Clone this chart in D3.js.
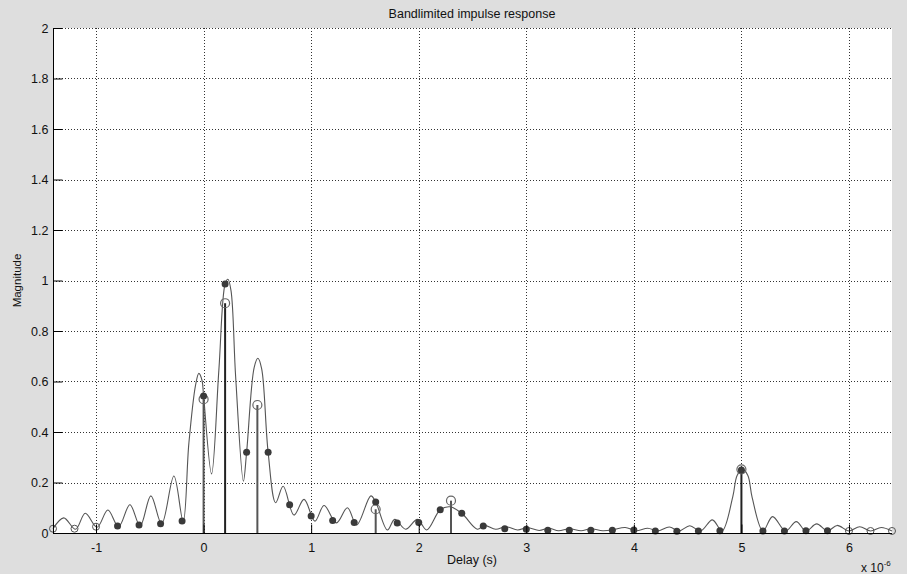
<!DOCTYPE html>
<html>
<head>
<meta charset="utf-8">
<script src="https://cdn.jsdelivr.net/npm/d3@7"></script>
<style>
body { margin: 0; background: #dedede; }
svg { display: block; font-family: "Liberation Sans", Arial, sans-serif; }
</style>
</head>
<body>
<div id="graph"></div>
<script>
// bandlimited curve (delay in us, magnitude)
var curveT = [-1.40, -1.30, -1.19, -1.10, -0.99, -0.89, -0.79, -0.685, -0.59, -0.49, -0.39, -0.276, -0.19,
  -0.137, -0.075, -0.044, -0.015, 0.00, 0.074, 0.142, 0.20, 0.226, 0.255, 0.298, 0.37, 0.40, 0.47, 0.505, 0.54,
  0.60, 0.67, 0.74, 0.84, 0.934,
  1.035, 1.12, 1.235, 1.337, 1.423, 1.555, 1.60, 1.709, 1.777, 1.879, 1.988, 2.074, 2.20, 2.29, 2.40,
  2.545, 2.61, 2.716, 2.81, 2.92, 3.01, 3.12, 3.21, 3.30, 3.40, 3.51, 3.60, 3.71, 3.80, 3.92, 4.02,
  4.13, 4.22, 4.33, 4.42, 4.52, 4.62, 4.73, 4.82, 4.92, 4.96, 5.01, 5.06, 5.10, 5.20, 5.29, 5.41, 5.51, 5.60,
  5.70, 5.80, 5.89, 6.00, 6.10, 6.20, 6.30, 6.40];
var curveMag = [0.017, 0.060, 0.015, 0.078, 0.023, 0.091, 0.025, 0.112, 0.028, 0.147, 0.036, 0.226, 0.045,
  0.355, 0.585, 0.632, 0.605, 0.543, 0.234, 0.645, 0.986, 1.005, 0.96, 0.619, 0.205, 0.32, 0.655, 0.692, 0.65,
  0.32, 0.12, 0.185, 0.071, 0.133,
  0.047, 0.109, 0.040, 0.100, 0.032, 0.147, 0.123, 0.012, 0.054, 0.015, 0.054, 0.012, 0.092, 0.104, 0.078,
  0.015, 0.030, 0.015, 0.025, 0.012, 0.021, 0.010, 0.019, 0.009, 0.017, 0.009, 0.017, 0.009, 0.012, 0.022, 0.009,
  0.019, 0.008, 0.024, 0.008, 0.029, 0.008, 0.052, 0.008, 0.144, 0.228, 0.252, 0.228, 0.140, 0.008, 0.065, 0.008, 0.045, 0.008,
  0.036, 0.008, 0.030, 0.008, 0.025, 0.008, 0.022, 0.008];

// samples every 0.2 us (filled markers)
var sampleT = [-0.8, -0.6, -0.4, -0.2, 0, 0.2, 0.4, 0.6, 0.8, 1.0, 1.2, 1.4, 1.6, 1.8, 2.0, 2.2, 2.4, 2.6,
  2.8, 3.0, 3.2, 3.4, 3.6, 3.8, 4.0, 4.2, 4.4, 4.6, 4.8, 5.0, 5.2, 5.4, 5.6, 5.8];
var sampleMag = [0.028, 0.032, 0.037, 0.048, 0.543, 0.986, 0.32, 0.32, 0.112, 0.067, 0.050, 0.042, 0.123,
  0.040, 0.042, 0.092, 0.078, 0.028, 0.017, 0.015, 0.011, 0.011, 0.011, 0.011, 0.012, 0.008, 0.007, 0.008,
  0.009, 0.250, 0.008, 0.008, 0.009, 0.009];

// samples at the edges (open markers)
var edgeT = [-1.4, -1.2, -1.0, 6.0, 6.2, 6.4];
var edgeMag = [0.017, 0.017, 0.025, 0.008, 0.008, 0.008];

// channel taps (stems with open circles)
var tapT = [0, 0.2, 0.5, 1.6, 2.3, 5.0];
var tapMag = [0.53, 0.91, 0.507, 0.094, 0.128, 0.252];

var xTicks = [-1, 0, 1, 2, 3, 4, 5, 6];
var yTicks = [0, 0.2, 0.4, 0.6, 0.8, 1, 1.2, 1.4, 1.6, 1.8, 2];

var W = 907, H = 574;
var m = {left: 53, right: 15, top: 28, bottom: 41};

var svg = d3.select("#graph").append("svg").attr("width", W).attr("height", H);
svg.append("rect").attr("width", W).attr("height", H).attr("fill", "#dedede");

var x = d3.scaleLinear().domain([-1.4, 6.4]).range([m.left, W - m.right]);
var y = d3.scaleLinear().domain([0, 2]).range([H - m.bottom, m.top]);

svg.append("rect")
  .attr("x", x(-1.4)).attr("y", y(2))
  .attr("width", x(6.4) - x(-1.4)).attr("height", y(0) - y(2))
  .attr("fill", "#fff");

// grid
var grid = svg.append("g").attr("stroke", "#333").attr("stroke-width", 1).attr("stroke-dasharray", "1,2");
grid.selectAll("line.gx").data(xTicks).enter().append("line")
  .attr("x1", function(d){ return Math.round(x(d)) + 0.5; })
  .attr("x2", function(d){ return Math.round(x(d)) + 0.5; })
  .attr("y1", y(0)).attr("y2", y(2));
grid.selectAll("line.gy").data(yTicks.slice(1)).enter().append("line")
  .attr("x1", x(-1.4)).attr("x2", x(6.4))
  .attr("y1", function(d){ return Math.round(y(d)) + 0.5; })
  .attr("y2", function(d){ return Math.round(y(d)) + 0.5; });

// curve
var line = d3.line()
  .x(function(d){ return x(d[0]); })
  .y(function(d){ return y(d[1]); })
  .curve(d3.curveCatmullRom.alpha(0.5));
svg.append("path")
  .datum(d3.zip(curveT, curveMag))
  .attr("d", line)
  .attr("fill", "none").attr("stroke", "#555").attr("stroke-width", 1.1);

// stems
var taps = d3.zip(tapT, tapMag);
svg.selectAll("line.stem").data(taps).enter().append("line")
  .attr("x1", function(d){ return x(d[0]); }).attr("x2", function(d){ return x(d[0]); })
  .attr("y1", y(0)).attr("y2", function(d){ return y(d[1]); })
  .attr("stroke", function(d){ return (d[0] == 0.2 || d[0] == 5) ? "#222" : "#555"; })
  .attr("stroke-width", 2);
svg.selectAll("circle.tap").data(taps).enter().append("circle")
  .attr("cx", function(d){ return x(d[0]); }).attr("cy", function(d){ return y(d[1]); })
  .attr("r", 4.5).attr("fill", "none").attr("stroke", "#666").attr("stroke-width", 1.2);

// edge samples
svg.selectAll("circle.edge").data(d3.zip(edgeT, edgeMag)).enter().append("circle")
  .attr("cx", function(d){ return x(d[0]); }).attr("cy", function(d){ return y(d[1]); })
  .attr("r", 3.5).attr("fill", "none").attr("stroke", "#555").attr("stroke-width", 1);

// samples
svg.selectAll("circle.samp").data(d3.zip(sampleT, sampleMag)).enter().append("circle")
  .attr("cx", function(d){ return x(d[0]); }).attr("cy", function(d){ return y(d[1]); })
  .attr("r", 3.5).attr("fill", "#3a3a3a");

// axes
var xAxis = d3.axisBottom(x).tickValues(xTicks).tickSize(-9).tickPadding(10)
  .tickFormat(function(d){ return d; });
var yAxis = d3.axisLeft(y).tickValues(yTicks).tickSize(-9).tickPadding(5)
  .tickFormat(function(d){ return d; });

var gx = svg.append("g").attr("transform", "translate(0," + (y(0) + 0.5) + ")").call(xAxis);
var gy = svg.append("g").attr("transform", "translate(" + (x(-1.4) + 0.5) + ",0)").call(yAxis);
[gx, gy].forEach(function(g){
  g.select(".domain").attr("stroke", "#000").attr("d", g === gx ? "M" + x(-1.4) + ",0H" + x(6.4) : "M0," + y(0) + "V" + y(2));
  g.selectAll(".tick line").attr("stroke", "#000");
  g.selectAll("text").attr("fill", "#111").style("font-size", "12.5px").style("font-family", "Liberation Sans, Arial, sans-serif");
});

// labels
svg.append("text").attr("x", 472).attr("y", 18).attr("text-anchor", "middle")
  .style("font-size", "12.5px").attr("fill", "#111").text("Bandlimited impulse response");
svg.append("text").attr("x", 472).attr("y", 564).attr("text-anchor", "middle")
  .style("font-size", "12.5px").attr("fill", "#111").text("Delay (s)");
svg.append("text").attr("transform", "translate(21," + ((y(0) + y(2)) / 2) + ") rotate(-90)")
  .attr("text-anchor", "middle").style("font-size", "11.5px").attr("fill", "#111").text("Magnitude");
var ex = svg.append("text").attr("x", 861).attr("y", 572).style("font-size", "12px").attr("fill", "#111");
ex.append("tspan").text("x 10");
ex.append("tspan").attr("dy", -6).style("font-size", "8px").text("-6");
</script>
</body>
</html>
